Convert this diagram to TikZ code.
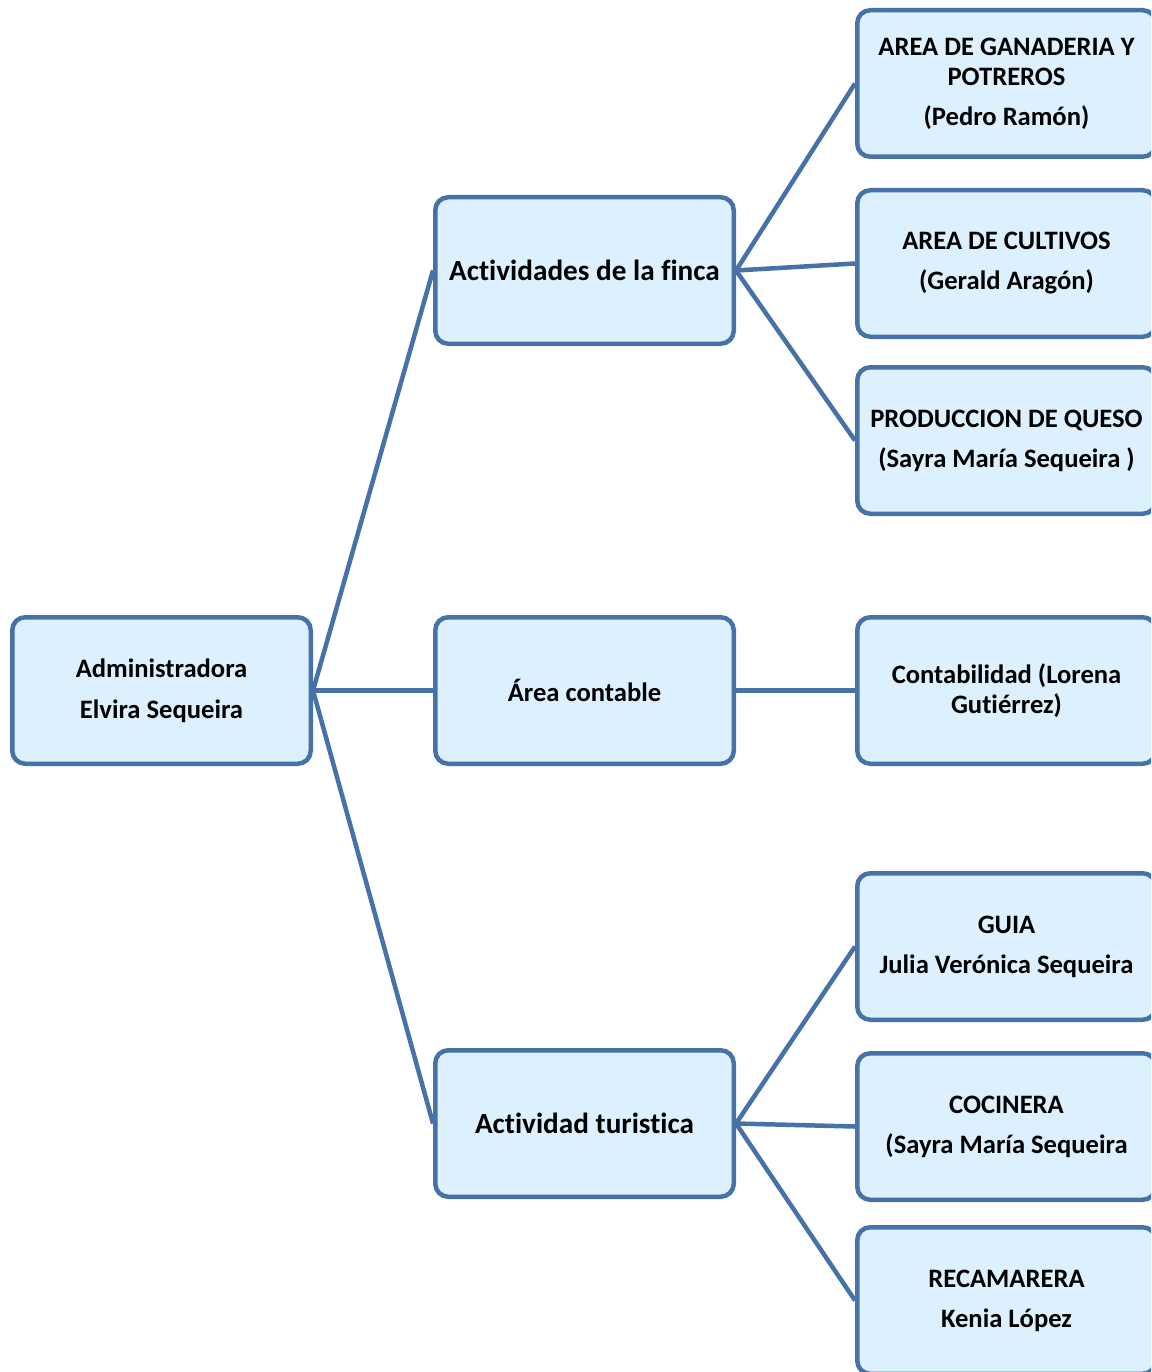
\documentclass[tikz,border=0pt]{standalone}
\usepackage{fontspec}
\setmainfont[Ligatures={NoCommon}]{Carlito}
\definecolor{bordc}{RGB}{70,114,168}
\definecolor{fillc}{RGB}{220,240,254}
\begin{document}
\begin{tikzpicture}[x=1pt,y=-1pt,
  box/.style={draw=bordc,fill=fillc,line width=4.5pt,rounded corners=13pt,
    minimum width=298.5pt,minimum height=146.5pt,inner sep=0pt,align=center,
    font=\fontsize{26.6}{30}\selectfont\bfseries},
  bigbox/.style={box,font=\fontsize{29.2}{34}\selectfont\bfseries},
  conn/.style={draw=bordc,line width=4.5pt}]
\clip (0,0) rectangle (1151,1372);
\fill[white] (0,0) rectangle (1151,1372);
\node[box] (admin) at (161.5,690.5) {Administradora\\[11pt]Elvira Sequeira};
\node[bigbox] (fin) at (584.5,270.5) {Actividades de la finca};
\node[box] (cont) at (584.5,690.5) {Área contable};
\node[bigbox] (tur) at (584.5,1123.5) {Actividad turistica};
\node[box] (r1) at (1006.5,83.5) {AREA DE GANADERIA Y\\POTREROS\\[10pt](Pedro Ramón)};
\node[box] (r2) at (1006.5,263.5) {AREA DE CULTIVOS\\[10pt](Gerald Aragón)};
\node[box] (r3) at (1006.5,440.5) {PRODUCCION DE QUESO\\[10pt](Sayra María Sequeira )};
\node[box] (r4) at (1006.5,690.5) {Contabilidad (Lorena\\Gutiérrez)};
\node[box] (r5) at (1006.5,946.5) {GUIA\\[10pt]Julia Verónica Sequeira};
\node[box] (r6) at (1006.5,1126.5) {COCINERA\\[10pt](Sayra María Sequeira};
\node[box] (r7) at (1006.5,1300.5) {RECAMARERA\\[10pt]Kenia López};
\draw[conn] (admin.east) -- (fin.west);
\draw[conn] (admin.east) -- (cont.west);
\draw[conn] (admin.east) -- (tur.west);
\draw[conn] (fin.east) -- (r1.west);
\draw[conn] (fin.east) -- (r2.west);
\draw[conn] (fin.east) -- (r3.west);
\draw[conn] (cont.east) -- (r4.west);
\draw[conn] (tur.east) -- (r5.west);
\draw[conn] (tur.east) -- (r6.west);
\draw[conn] (tur.east) -- (r7.west);
\end{tikzpicture}
\end{document}
